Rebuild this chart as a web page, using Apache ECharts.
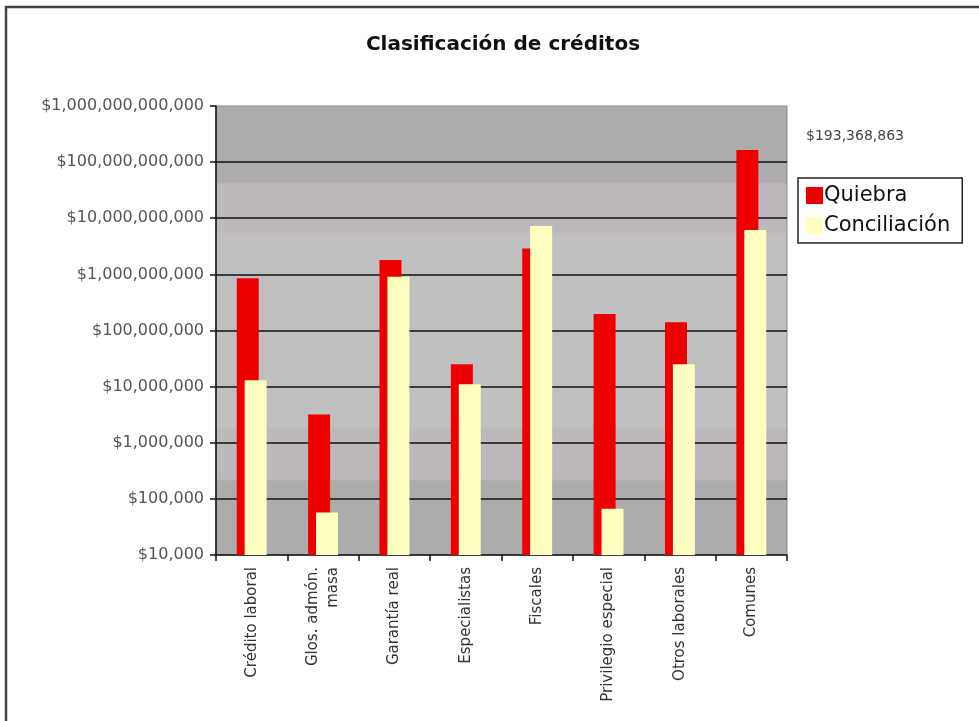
<!DOCTYPE html>
<html>
<head>
<meta charset="utf-8">
<script src="https://cdn.jsdelivr.net/npm/echarts@6/dist/echarts.min.js"></script>
<style>
    html, body { margin: 0; padding: 0; background: #fff; }
    #chart { width: 979px; height: 721px; }
</style>
</head>
<body>
<div id="chart"></div>
<script>
// 数据
const categories = [
    'Crédito laboral', 'Glos. admón.\nmasa', 'Garantía real', 'Especialistas',
    'Fiscales', 'Privilegio especial', 'Otros laborales', 'Comunes'
];
const quiebra = [850000000, 3200000, 1800000000, 25000000, 2900000000, 196000000, 141000000, 164000000000];
const conciliacion = [13000000, 57000, 910000000, 11000000, 7300000000, 67000, 25000000, 6200000000];
const seriesNames = ['Quiebra', 'Conciliación'];
const yMin = 10000;
const yMax = 1000000000000;
const noteText = '$193,368,863';

const colors = {
    red: '#ee0000',
    yellow: '#ffffc0',
    grid: '#111111'
};

const font = 'DejaVu Sans, Verdana, sans-serif';

function money(v) {
    return '$' + Math.round(v).toString().replace(/\B(?=(\d{3})+(?!\d))/g, ',');
}

const chart = echarts.init(document.getElementById('chart'));

const option = {
    backgroundColor: '#ffffff',
    animation: false,
    textStyle: { fontFamily: font },
    title: {
        text: 'Clasificación de créditos',
        left: 498,
        top: 30,
        textAlign: 'center',
        textStyle: { fontSize: 20, fontWeight: 'bold', color: '#111', fontFamily: font }
    },
    legend: {
        data: seriesNames,
        orient: 'vertical',
        left: 798,
        top: 178,
        padding: [7, 12, 7, 8],
        itemGap: 9,
        itemWidth: 17,
        itemHeight: 17,
        borderColor: '#222',
        borderWidth: 1.5,
        icon: 'rect',
        textStyle: { fontSize: 21, color: '#111', padding: [0, 0, 0, -4], fontFamily: font }
    },
    grid: {
        left: 216,
        right: 192,
        top: 106,
        bottom: 166,
        show: true,
        borderColor: '#8a8a8a',
        borderWidth: 1,
        backgroundColor: new echarts.graphic.LinearGradient(0, 0, 0, 1, [
            { offset: 0, color: '#acacac' },
            { offset: 0.17, color: '#acacac' },
            { offset: 0.175, color: '#bcb8bc' },
            { offset: 0.28, color: '#bcb8bc' },
            { offset: 0.285, color: '#c0c0c0' },
            { offset: 0.715, color: '#c0c0c0' },
            { offset: 0.72, color: '#bcb8bc' },
            { offset: 0.83, color: '#bcb8bc' },
            { offset: 0.835, color: '#acacac' },
            { offset: 1, color: '#acacac' }
        ])
    },
    xAxis: {
        type: 'category',
        data: categories,
        axisLine: { lineStyle: { color: colors.grid, width: 1.5 } },
        axisTick: { show: true, length: 6, lineStyle: { color: colors.grid, width: 1.5 } },
        axisLabel: {
            rotate: 90,
            interval: 0,
            margin: 12,
            fontSize: 15,
            color: '#333',
            lineHeight: 20,
            fontFamily: font
        }
    },
    yAxis: {
        type: 'log',
        logBase: 10,
        min: yMin,
        max: yMax,
        axisLine: { show: true, lineStyle: { color: colors.grid, width: 1.5 } },
        axisTick: { show: true, length: 6, lineStyle: { color: colors.grid, width: 1.5 } },
        axisLabel: {
            fontSize: 16,
            color: '#555',
            margin: 12,
            fontFamily: font,
            formatter: (v) => money(v)
        },
        splitLine: {
            show: true,
            showMaxLine: false,
            showMinLine: false,
            lineStyle: { color: colors.grid, width: 1.5 }
        }
    },
    series: [{
        name: seriesNames[0],
        type: 'bar',
        data: quiebra,
        barWidth: 22,
        barGap: '-64%',
        itemStyle: { color: colors.red }
    }, {
        name: seriesNames[1],
        type: 'bar',
        data: conciliacion,
        barWidth: 22,
        itemStyle: { color: colors.yellow }
    }],
    graphic: [{
        type: 'text',
        left: 806,
        top: 129,
        style: { text: noteText, fontSize: 14, fill: '#444', fontFamily: font }
    }, {
        type: 'polyline',
        shape: { points: [[6, 721], [6, 7], [979, 7]] },
        style: { stroke: '#444', lineWidth: 2.5, fill: null }
    }]
};

chart.setOption(option);
</script>
</body>
</html>
